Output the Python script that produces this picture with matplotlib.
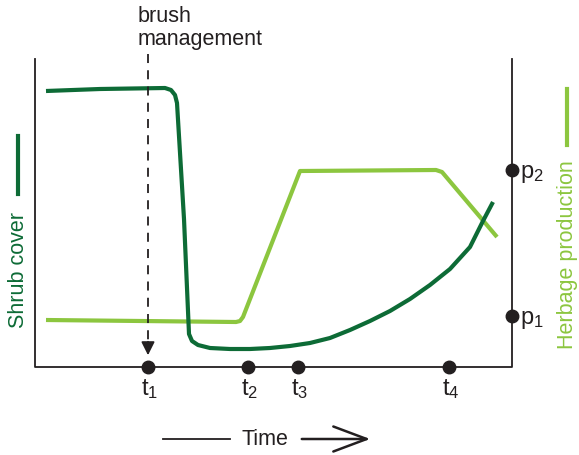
import matplotlib.pyplot as plt

plt.rcParams['font.family'] = ['Liberation Sans', 'DejaVu Sans']
plt.rcParams['mathtext.fontset'] = 'custom'
plt.rcParams['mathtext.rm'] = 'Liberation Sans'

dark = '#0d6b36'
light = '#8cc63f'
ink = '#231f20'

# curves traced in figure pixel space (x right, y down)
shrub_x = [46, 100, 165, 171, 175, 177, 184, 189, 192, 198, 210, 230, 250, 270, 290, 310,
           330, 350, 370, 390, 410, 430, 450, 470, 483, 493]
shrub_y = [92, 90, 89, 91, 96, 104, 220, 335, 342, 346, 349, 350, 350, 349, 347, 344,
           339, 331, 322, 312, 300, 286, 270, 248, 222, 203]

herb_x = [46, 236, 240, 243, 300, 436, 442, 497]
herb_y = [321, 323, 322, 318, 172, 171, 173, 238]

t_pos = [148, 248, 298, 449]
t_labels = ['$\\mathrm{t_1}$', '$\\mathrm{t_2}$', '$\\mathrm{t_3}$', '$\\mathrm{t_4}$']
p_pos = [317, 171]
p_labels = ['$\\mathrm{p_1}$', '$\\mathrm{p_2}$']

x0, x1, ybot, ytop = 35, 512, 368, 60

fig = plt.figure(figsize=(5.79, 4.56), dpi=100)
ax = fig.add_axes([0, 0, 1, 1])
ax.set_xlim(0, 579)
ax.set_ylim(456, 0)
ax.axis('off')

# axes frame
ax.plot([x0, x0, x1, x1], [ytop, ybot, ybot, ytop], color=ink, lw=1.3)

# curves
ax.plot(herb_x, herb_y, color=light, lw=3, solid_capstyle='butt', solid_joinstyle='round')
ax.plot(shrub_x, shrub_y, color=dark, lw=3, solid_capstyle='butt', solid_joinstyle='round')

# brush management arrow
ax.plot([t_pos[0], t_pos[0]], [55, 345], color=ink, lw=1.3, dashes=(5, 4))
ax.annotate('', xy=(t_pos[0], 359), xytext=(t_pos[0], 340),
            arrowprops=dict(arrowstyle='-|>', color=ink, lw=1.3, mutation_scale=20))
ax.text(t_pos[0] - 10, 28, 'brush\nmanagement', fontsize=15.5, color=ink,
        ha='left', va='center', linespacing=1.1)

# time ticks
for x, lab in zip(t_pos, t_labels):
    ax.plot(x, ybot, 'o', color=ink, ms=9)
    ax.text(x + 2, 389, lab, fontsize=17, ha='center', va='center', color=ink)

# production ticks
for y, lab in zip(p_pos, p_labels):
    ax.plot(x1, y, 'o', color=ink, ms=9)
    ax.text(x1 + 8, y + 3, lab, fontsize=17, ha='left', va='center', color=ink)

# y labels with legend dashes
ax.plot([18, 18], [137, 195], color=dark, lw=3)
ax.text(19, 270, 'Shrub cover', rotation=90, fontsize=15.5, color=dark, ha='center', va='center')
ax.plot([567, 567], [90, 146], color=light, lw=3)
ax.text(568, 255, 'Herbage production', rotation=90, fontsize=15.5, color=light,
        ha='center', va='center')

# time arrow
ax.plot([163, 230], [440, 440], color=ink, lw=1.3)
ax.text(265, 440, 'Time', fontsize=15.5, ha='center', va='center', color=ink)
ax.annotate('', xy=(373, 440), xytext=(299, 440),
            arrowprops=dict(arrowstyle='->,head_length=0.8,head_width=0.3', color=ink,
                            lw=1.8, mutation_scale=30))

fig.savefig('out.png', dpi=100)
